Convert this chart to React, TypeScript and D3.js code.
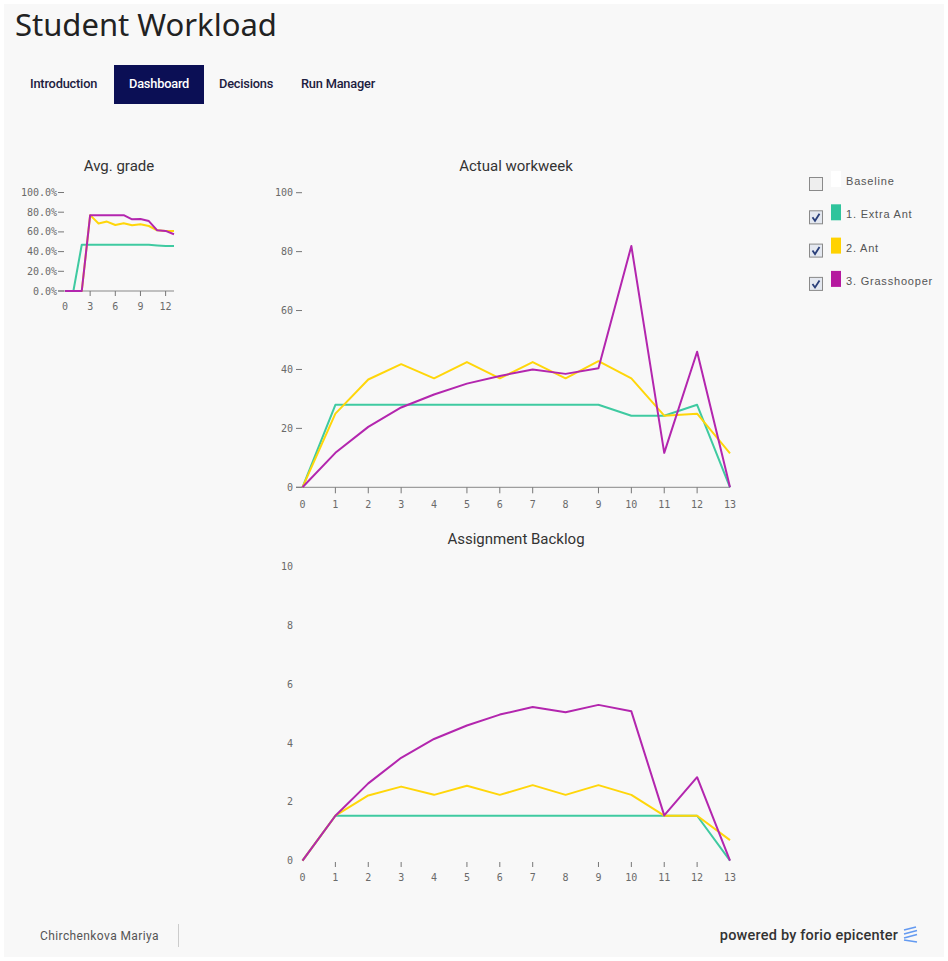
import React from "react";
import * as d3 from "d3";

const weeks = [0, 1, 2, 3, 4, 5, 6, 7, 8, 9, 10, 11, 12, 13];

const seriesNames = ["1. Extra Ant", "2. Ant", "3. Grasshooper"];
const seriesColors = ["#3fcaa1", "#ffd60a", "#b326ae"];
const swatchColors = ["#2fc49c", "#ffd200", "#b5189f"];

const gradeExtraAnt = [0, 0, 47, 47, 47, 47, 47, 47, 47, 47, 47, 46.3, 45.6, 45.6];
const gradeAnt = [0, 0, 0, 77, 68.5, 70.5, 67, 68.7, 66.7, 67.7, 66, 61.6, 61, 61];
const gradeGrass = [0, 0, 0, 77, 77, 77, 77, 77, 72.8, 73, 71, 61.6, 61, 57.6];

const workExtraAnt = [0, 28, 28, 28, 28, 28, 28, 28, 28, 28, 24.3, 24.3, 28, 0];
const workAnt = [0, 25, 36.6, 41.8, 37, 42.5, 37, 42.5, 37, 42.8, 37, 24.3, 25, 11.5];
const workGrass = [0, 11.7, 20.5, 27.1, 31.5, 35.2, 37.8, 40, 38.5, 40.4, 81.9, 11.7, 46, 0];

const backExtraAnt = [0, 1.53, 1.53, 1.53, 1.53, 1.53, 1.53, 1.53, 1.53, 1.53, 1.53, 1.53, 1.53, 0];
const backAnt = [0, 1.53, 2.22, 2.52, 2.24, 2.55, 2.24, 2.57, 2.24, 2.57, 2.24, 1.53, 1.53, 0.7];
const backGrass = [0, 1.53, 2.63, 3.5, 4.14, 4.6, 4.97, 5.23, 5.05, 5.3, 5.08, 1.54, 2.84, 0];

const gradeYTicks = [0, 20, 40, 60, 80, 100];
const gradeXTicks = [0, 3, 6, 9, 12];
const workYTicks = [0, 20, 40, 60, 80, 100];
const backYTicks = [0, 2, 4, 6, 8, 10];
const xTickLabels = [0, 1, 2, 3, 4, 5, 6, 7, 8, 9, 10, 11, 12, 13];
const xTickMarks = [1, 2, 3, 5, 6, 7, 9, 10, 11, 12];

const navItems = ["Introduction", "Dashboard", "Decisions", "Run Manager"];
const legendItems = ["Baseline", ...seriesNames];

const mono = "'DejaVu Sans Mono', monospace";
const sans = "Roboto, 'Noto Sans', sans-serif";
const tickColor = "#6a6a6a";

function Lines({ x, y, data }: { x: any; y: any; data: number[][] }) {
  const line = d3
    .line<number>()
    .x((_, i) => x(weeks[i]))
    .y((v) => y(v));
  return (
    <g fill="none" strokeWidth={2} strokeLinejoin="round">
      {data.map((s, i) => (
        <path key={i} d={line(s) || ""} stroke={seriesColors[i]} />
      ))}
    </g>
  );
}

export default function App() {
  const gx = d3.scaleLinear().domain([0, 13]).range([65, 174]);
  const gy = d3.scaleLinear().domain([0, 100]).range([291, 192.5]);
  const wx = d3.scaleLinear().domain([0, 13]).range([302.5, 730]);
  const wy = d3.scaleLinear().domain([0, 100]).range([487.3, 192.7]);
  const bx = wx;
  const by = d3.scaleLinear().domain([0, 10]).range([860.7, 566.7]);

  const navX = [30, 129, 219, 301];
  const pct = d3.format(".1%");

  return (
    <svg
      width={948}
      height={961}
      style={{ position: "absolute", left: 0, top: 0 }}
      xmlns="http://www.w3.org/2000/svg"
    >
      <rect x={0} y={0} width={948} height={961} fill="#ffffff" />
      <rect x={4} y={4} width={940} height={953} fill="#f8f8f8" />

      <text x={15} y={36} fontFamily="'Noto Sans', sans-serif" fontSize={31} fill="#222">
        Student Workload
      </text>

      <rect x={114} y={65} width={90} height={39} fill="#0b0f55" />
      {navItems.map((t, i) => (
        <text
          key={t}
          x={navX[i]}
          y={88}
          fontFamily={sans}
          fontSize={12.8}
          fontWeight={500}
          fill={i === 1 ? "#ffffff" : "#1c2040"}
          letterSpacing={-0.2}
        >
          {t}
        </text>
      ))}

      <text x={119} y={171} textAnchor="middle" fontFamily={sans} fontSize={15} fill="#333">
        Avg. grade
      </text>
      <line x1={58} x2={174} y1={gy(0)} y2={gy(0)} stroke="#888" />
      {gradeYTicks.map((t) => (
        <g key={t}>
          <line x1={58} x2={64} y1={gy(t)} y2={gy(t)} stroke="#777" />
          <text x={57} y={gy(t) + 3.5} textAnchor="end" fontFamily={mono} fontSize={10} fill={tickColor}>
            {pct(t / 100)}
          </text>
        </g>
      ))}
      {gradeXTicks.map((t) => (
        <g key={t}>
          {t > 0 && <line x1={gx(t)} x2={gx(t)} y1={gy(0)} y2={gy(0) + 5} stroke="#777" />}
          <text x={gx(t)} y={310} textAnchor="middle" fontFamily={mono} fontSize={10} fill={tickColor}>
            {t}
          </text>
        </g>
      ))}
      <Lines x={gx} y={gy} data={[gradeExtraAnt, gradeAnt, gradeGrass]} />

      <text x={516} y={171} textAnchor="middle" fontFamily={sans} fontSize={15} fill="#333">
        Actual workweek
      </text>
      <line x1={296} x2={730} y1={wy(0)} y2={wy(0)} stroke="#888" />
      {workYTicks.map((t) => (
        <g key={t}>
          <line x1={296} x2={302} y1={wy(t)} y2={wy(t)} stroke="#777" />
          <text x={293} y={wy(t) + 3.5} textAnchor="end" fontFamily={mono} fontSize={10} fill={tickColor}>
            {t}
          </text>
        </g>
      ))}
      {xTickMarks.map((t) => (
        <line key={t} x1={wx(t)} x2={wx(t)} y1={wy(0)} y2={wy(0) + 6} stroke="#777" />
      ))}
      {xTickLabels.map((t) => (
        <text key={t} x={wx(t)} y={508} textAnchor="middle" fontFamily={mono} fontSize={10} fill={tickColor}>
          {t}
        </text>
      ))}
      <Lines x={wx} y={wy} data={[workExtraAnt, workAnt, workGrass]} />

      <text x={516} y={544} textAnchor="middle" fontFamily={sans} fontSize={15} fill="#333">
        Assignment Backlog
      </text>
      {backYTicks.map((t) => (
        <text key={t} x={293} y={by(t) + 3.5} textAnchor="end" fontFamily={mono} fontSize={10} fill={tickColor}>
          {t}
        </text>
      ))}
      {xTickMarks.map((t) => (
        <line key={t} x1={bx(t)} x2={bx(t)} y1={862} y2={867} stroke="#777" />
      ))}
      {xTickLabels.map((t) => (
        <text key={t} x={bx(t)} y={881} textAnchor="middle" fontFamily={mono} fontSize={10} fill={tickColor}>
          {t}
        </text>
      ))}
      <Lines x={bx} y={by} data={[backExtraAnt, backAnt, backGrass]} />

      {legendItems.map((t, i) => {
        const cy = 184 + i * 33.3;
        return (
          <g key={t}>
            <rect x={809.5} y={cy - 6.5} width={13} height={13} fill={i === 0 ? "#eeeeee" : "#e4e8f0"} stroke="#8a8a8a" />
            {i > 0 && (
              <path
                d={`M${812.5},${cy} L${815},${cy + 3.5} L${819.5},${cy - 3.5}`}
                fill="none"
                stroke="#2a3f7a"
                strokeWidth={1.8}
              />
            )}
            <rect x={831} y={cy - 13} width={10} height={16} fill={i === 0 ? "#ffffff" : swatchColors[i - 1]} />
            <text
              x={846}
              y={cy + 1}
              fontFamily="'Liberation Sans', Arial, sans-serif"
              fontSize={11}
              letterSpacing={0.8}
              fill="#555"
            >
              {t}
            </text>
          </g>
        );
      })}

      <text x={40} y={940} fontFamily={sans} fontSize={12} letterSpacing={0.4} fill="#555">
        Chirchenkova Mariya
      </text>
      <line x1={178.5} x2={178.5} y1={924} y2={947} stroke="#ccc" />
      <text x={898} y={940} textAnchor="end" fontFamily={sans} fontSize={14.5} fontWeight={500} letterSpacing={0.2} fill="#333">
        powered by forio epicenter
      </text>
      <g stroke="#4a8af0" strokeWidth={1.6} opacity={0.85}>
        <line x1={904} x2={916} y1={930} y2={927} />
        <line x1={904} x2={917} y1={934} y2={930.5} />
        <line x1={904} x2={917} y1={938} y2={934.5} />
        <line x1={904} x2={917} y1={940} y2={942} />
      </g>
    </svg>
  );
}
